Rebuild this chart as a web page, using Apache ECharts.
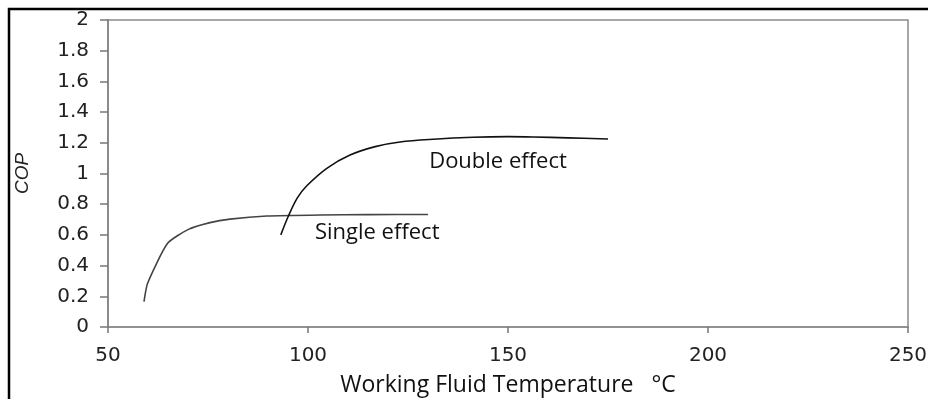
<!DOCTYPE html>
<html>
<head>
<meta charset="utf-8">
<script src="https://cdn.jsdelivr.net/npm/echarts@6/dist/echarts.min.js"></script>
<style>
  html, body { margin: 0; padding: 0; background: #fff; }
  #chart { width: 928px; height: 399px; }
</style>
</head>
<body>
<div id="chart"></div>
<script>
  // temperature (°C) and COP
  const singleX = [59, 59.9, 64.9, 70.1, 75.5, 80.5, 89.7, 103, 115, 130];
  const singleY = [0.165, 0.285, 0.545, 0.636, 0.68, 0.703, 0.723, 0.73, 0.732, 0.733];

  const doubleX = [93.2, 95.1, 97.3, 99.7, 104.7, 110.5, 116.8, 123, 131.3, 141.3, 150, 156.3, 165, 175];
  const doubleY = [0.6, 0.723, 0.84, 0.92, 1.034, 1.12, 1.175, 1.205, 1.223, 1.236, 1.24, 1.238, 1.232, 1.225];

  // curve labels: text and where they sit (data coords)
  const labelText = ['Double effect', 'Single effect'];
  const labelX = [147.5, 117.3];
  const labelY = [1.075, 0.612];

  const toPairs = (xs, ys) => xs.map((x, i) => [x, ys[i]]);

  const chart = echarts.init(document.getElementById('chart'));

  const labelFont = {
    show: true,
    position: 'inside',
    fontFamily: 'Open Sans',
    fontSize: 22,
    color: '#111',
  };

  const option = {
    animation: false,
    backgroundColor: '#fff',
    grid: {
      left: 108,
      right: 20,
      top: 20,
      bottom: 72,
      outerBoundsMode: 'none',
      show: true,
      borderColor: '#8a8a8a',
      borderWidth: 1.5,
    },
    xAxis: {
      type: 'value',
      min: 50,
      max: 250,
      interval: 50,
      name: 'Working Fluid Temperature   °C',
      nameLocation: 'middle',
      nameGap: 47,
      nameTextStyle: { fontFamily: 'Open Sans', fontSize: 23, color: '#111' },
      axisLine: { show: true, onZero: false, lineStyle: { color: '#8a8a8a', width: 1.5 } },
      axisTick: { show: true, length: 6, lineStyle: { color: '#777', width: 1.5 } },
      splitLine: { show: false },
      axisLabel: { fontFamily: 'DejaVu Sans', fontSize: 20, color: '#222', margin: 19 },
    },
    yAxis: {
      type: 'value',
      min: 0,
      max: 2,
      interval: 0.2,
      name: 'COP',
      nameLocation: 'middle',
      nameGap: 76,
      nameTextStyle: { fontFamily: 'Liberation Sans Narrow, Liberation Sans', fontStyle: 'italic', fontSize: 19, color: '#222' },
      axisLine: { show: true, lineStyle: { color: '#8a8a8a', width: 2 } },
      axisTick: { show: true, length: 8, lineStyle: { color: '#777', width: 1.5 } },
      splitLine: { show: false },
      axisLabel: { fontFamily: 'DejaVu Sans', fontSize: 20, color: '#222', margin: 19 },
    },
    graphic: [
      {
        type: 'rect',
        shape: { x: 9, y: 9, width: 960, height: 430 },
        style: { fill: 'none', stroke: '#000', lineWidth: 2.5 },
        silent: true,
      },
    ],
    series: [
      {
        name: 'Single effect',
        type: 'line',
        data: toPairs(singleX, singleY),
        showSymbol: false,
        smooth: 0.2,
        lineStyle: { color: '#444', width: 1.6 },
        markPoint: {
          symbol: 'circle',
          symbolSize: 0,
          label: { ...labelFont, formatter: labelText[1] },
          data: [{ coord: [labelX[1], labelY[1]] }],
        },
      },
      {
        name: 'Double effect',
        type: 'line',
        data: toPairs(doubleX, doubleY),
        showSymbol: false,
        smooth: 0.35,
        lineStyle: { color: '#111', width: 1.6 },
        markPoint: {
          symbol: 'circle',
          symbolSize: 0,
          label: { ...labelFont, formatter: labelText[0] },
          data: [{ coord: [labelX[0], labelY[0]] }],
        },
      },
    ],
  };

  chart.setOption(option);
</script>
</body>
</html>
